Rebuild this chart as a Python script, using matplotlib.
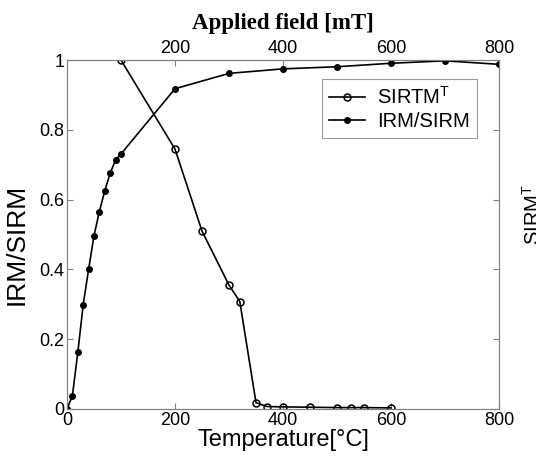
import matplotlib
matplotlib.use('Agg')
import matplotlib.pyplot as plt

plt.rcParams['font.family'] = ['Liberation Sans', 'DejaVu Sans']
plt.rcParams['mathtext.default'] = 'regular'

# thermal demagnetisation of SIRM (vs temperature, bottom axis)
temp_c = [100, 200, 250, 300, 320, 350, 370, 400, 450, 500, 525, 550, 600]
sirm_t = [1.0, 0.745, 0.51, 0.355, 0.308, 0.018, 0.007, 0.006, 0.005,
          0.004, 0.004, 0.004, 0.003]

# IRM acquisition (vs applied field, top axis)
field_mt = [0, 10, 20, 30, 40, 50, 60, 70, 80, 90, 100,
            200, 300, 400, 500, 600, 700, 800]
irm_sirm = [0.0, 0.038, 0.162, 0.299, 0.40, 0.497, 0.566, 0.626, 0.676,
            0.714, 0.731, 0.918, 0.962, 0.975, 0.981, 0.991, 0.998, 0.988]

spine_col = '#808080'

fig = plt.figure(figsize=(5.36, 4.59), dpi=100)
ax = fig.add_axes([0.125, 0.109, 0.806, 0.760])
top = ax.twiny()

l1, = ax.plot(temp_c, sirm_t, color='black', lw=1.2, marker='o',
              markersize=5, markerfacecolor='none', markeredgewidth=1.1,
              label='SIRTM$^T$')
l2, = top.plot(field_mt, irm_sirm, color='black', lw=1.2, marker='o',
               markersize=4, markerfacecolor='black', label='IRM/SIRM')

ax.set_xlim(0, 800)
ax.set_ylim(0, 1)
top.set_xlim(0, 800)
ax.set_xticks([0, 200, 400, 600, 800])
ax.set_yticks([0, 0.2, 0.4, 0.6, 0.8, 1])
ax.set_yticklabels(['0', '0.2', '0.4', '0.6', '0.8', '1'])
top.set_xticks([200, 400, 600, 800])

for a in (ax, top):
    for s in a.spines.values():
        s.set_color(spine_col)
        s.set_linewidth(0.8)
    a.tick_params(direction='in', length=4, color=spine_col, labelsize=13,
                  pad=2)

ax.tick_params(right=True)

ax.set_xlabel('Temperature[°C]', fontsize=17, labelpad=0)
ax.set_ylabel('IRM/SIRM', fontsize=19)
ax.yaxis.set_label_coords(-0.088, 0.471)
top.set_xlabel('Applied field [mT]', fontsize=16.5, fontweight='bold',
               family='Liberation Serif', labelpad=8)

# right-hand label, partly clipped by the figure edge as in the original
fig.text(0.974, 0.532, 'SIRM$^T$', rotation=90, fontsize=14.5,
         ha='left', va='center')

leg = ax.legend(handles=[l1, l2], loc='upper right',
                bbox_to_anchor=(0.949, 0.946), borderaxespad=0,
                fontsize=14.5, frameon=True,
                fancybox=False, edgecolor=spine_col, handlelength=1.8,
                handletextpad=0.6, borderpad=0.35, labelspacing=0.2)
leg.get_frame().set_linewidth(0.8)

fig.savefig('out.png', dpi=100)
